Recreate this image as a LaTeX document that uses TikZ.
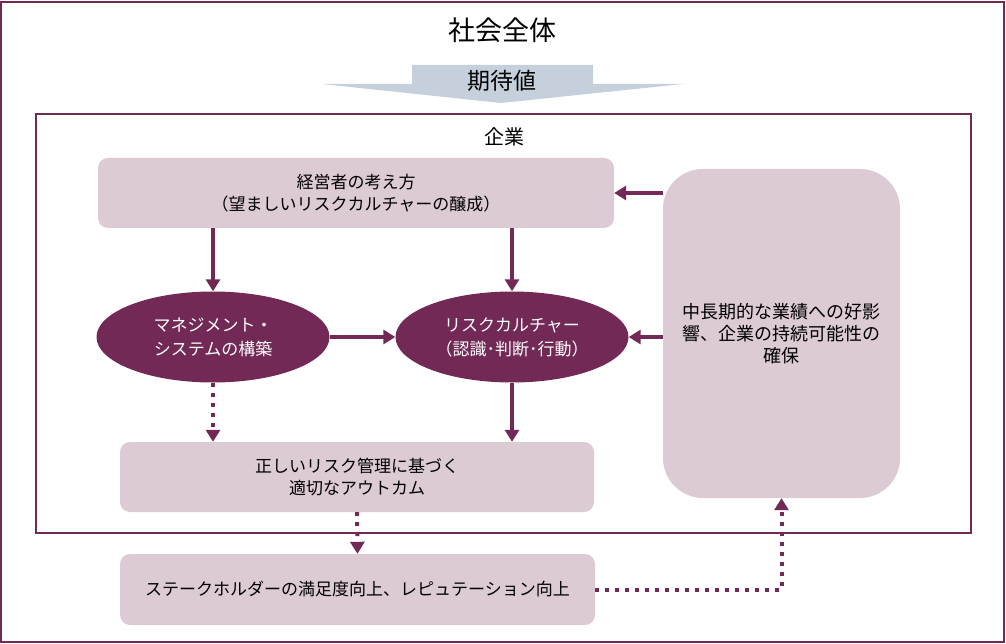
\documentclass[tikz,border=0pt]{standalone}
\usepackage{fontspec}
\setmainfont{Noto Sans CJK JP}
\usetikzlibrary{positioning,shapes.geometric,arrows.meta}
\definecolor{plum}{RGB}{114,41,86}
\definecolor{mauve}{RGB}{220,202,212}
\definecolor{steel}{RGB}{197,208,220}

\begin{document}
\begin{tikzpicture}[x=1pt,y=-1pt,>={Triangle[width=14pt,length=12pt]},
    box/.style={fill=mauve,rounded corners=10pt,align=center,inner sep=0pt,
      font=\fontsize{17}{22}\selectfont},
    oval/.style={ellipse,fill=plum,text=white,align=center,inner sep=0pt,
      minimum width=233pt,minimum height=91pt,font=\fontsize{17}{24}\selectfont},
    arr/.style={->,draw=plum,line width=4pt},
    dotarr/.style={arr,dash pattern=on 4pt off 6pt}]
    \useasboundingbox (0,0) rectangle (1006,644);
    % frames
    \draw[plum,line width=1.5pt] (1,2) rectangle (1004,642);
    \draw[plum,line width=1.5pt] (36,114) rectangle (971,533);
    \node[font=\fontsize{27}{30}\selectfont] (society) at (502,30) {社会全体};
    \fill[steel] (412,65) -- (593,65) -- (593,84) -- (683,84) -- (501,103)
      -- (322,84) -- (412,84) -- cycle;
    \node[font=\fontsize{23}{26}\selectfont] (expect) at (502,81) {期待値};
    \node[font=\fontsize{20}{24}\selectfont] (firm) at (504,137) {企業};
    %
    \node[box,minimum width=516pt,minimum height=70pt] (keiei) at (356,193)
      {経営者の考え方\\（望ましいリスクカルチャーの醸成）};
    \node[oval] (mgmt) at (213,337) {マネジメント・\\システムの構築};
    \node[oval] (culture) at (512,337) {リスクカルチャー\\（認識･判断･行動）};
    \node[box,rounded corners=40pt,minimum width=237pt,minimum height=329pt,
      font=\fontsize{18}{22}\selectfont] (kakuho) at (781.5,333.5)
      {中長期的な業績への好影\\響、企業の持続可能性の\\確保};
    \node[box,minimum width=474pt,minimum height=70pt] (outcome) at (357,477)
      {正しいリスク管理に基づく\\適切なアウトカム};
    \node[box,minimum width=475pt,minimum height=71pt] (stake) at (357.5,589.5)
      {ステークホルダーの満足度向上、レピュテーション向上};
    %
    \draw[arr] (keiei.south -| mgmt.north) -- (mgmt.north);
    \draw[arr] (keiei.south -| culture.north) -- (culture.north);
    \draw[arr] (mgmt.east) -- (culture.west);
    \draw[arr] (kakuho.west |- culture.east) -- (culture.east);
    \draw[arr] (kakuho.west |- keiei.east) -- (keiei.east);
    \draw[dotarr] (mgmt.south) -- (mgmt.south |- outcome.north);
    \draw[arr] (culture.south) -- (culture.south |- outcome.north);
    \draw[dotarr] (outcome.south) -- (stake.north);
    \draw[dotarr] (stake.east) -| (kakuho.south);
\end{tikzpicture}
\end{document}
